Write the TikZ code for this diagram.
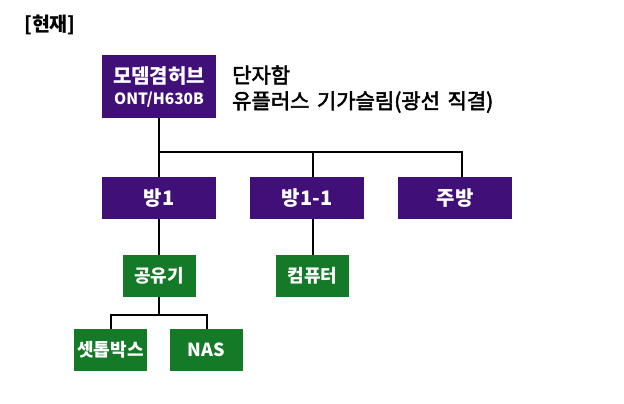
\documentclass[tikz,border=0pt]{standalone}
\usepackage{fontspec}
\setmainfont{Noto Sans CJK KR}
\newfontfamily\semibold{Noto Sans CJK KR}[FakeBold=2.5,WordSpace=1.6]
\usetikzlibrary{positioning}
\definecolor{roomfill}{RGB}{64,16,120}
\definecolor{devfill}{RGB}{20,122,40}
\definecolor{wireline}{RGB}{0,0,0}

\begin{document}
\begin{tikzpicture}[x=1pt,y=-1pt,
   room/.style={fill=roomfill,text=white,inner sep=0pt,minimum width=114pt,
                minimum height=42pt,align=center,font=\bfseries\fontsize{20}{23}\selectfont},
   dev/.style={fill=devfill,text=white,inner sep=0pt,minimum width=73pt,
               minimum height=42pt,font=\bfseries\fontsize{18}{21}\selectfont},
   note/.style={anchor=west,inner sep=0pt,font=\semibold\fontsize{21}{24}\selectfont},
   wire/.style={draw=wireline,line width=2pt}]
\useasboundingbox (0,0) rectangle (624,404);

\node[anchor=west,inner sep=0pt,font=\bfseries\fontsize{19.5}{22}\selectfont] (title) at (24,25) {[현재]};

% modem hub and its notes
\node[room,minimum height=63pt] (modem) at (159,86.5)
   {모뎀겸허브\\[-2pt]{\fontsize{15.5}{18}\selectfont ONT/H630B}};
\node[note] (box) at (232,75) {단자함};
\node[note] (line) at (232,102) {유플러스 기가슬림(광선 직결)};

% rooms
\node[room] (room1) at (159,198) {방1};
\node[room] (room2) at (307,198) {방1-1};
\node[room] (kitchen) at (455,198) {주방};

\draw[wire] (modem.south) -- ++(0,34) coordinate (bus);
\draw[wire] (room1.north) -- (room1.north |- bus) -| ([xshift=7pt]kitchen.north);
\draw[wire] ([xshift=6pt]room2.north) -- ([xshift=6pt]room2.north |- bus);

% devices
\node[dev] (router) at (159,276) {공유기};
\node[dev] (pc) at (312.5,276) {컴퓨터};
\node[dev] (stb) at (110.5,350) {셋톱박스};
\node[dev] (nas) at (206.5,350) {NAS};

\draw[wire] (room1.south) -- (router.north);
\draw[wire] (pc.north) -- (pc.north |- room2.south);
\draw[wire] (router.south) -- ++(0,18) coordinate (split);
\draw[wire] (stb.north) |- (split) -| (nas.north);
\end{tikzpicture}
\end{document}
